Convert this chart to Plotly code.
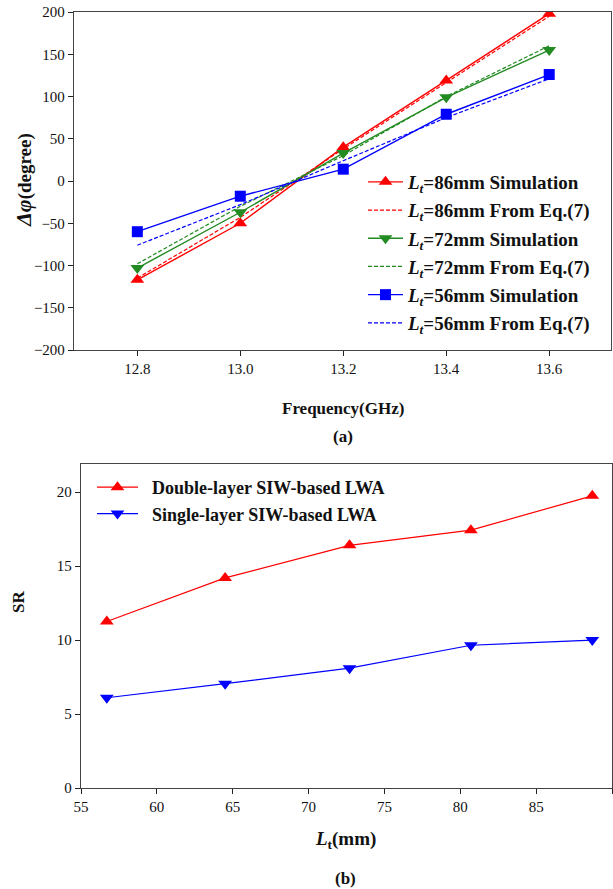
import plotly.graph_objects as go

W, H = 613, 889

# ---- Data (a) ----
freq = [12.8, 13.0, 13.2, 13.4, 13.6]
sim86 = [-117, -50, 40, 119, 198]
eq86 = [-115, -43, 38, 117, 195]
sim72 = [-103, -37, 33, 99, 155]
eq72 = [-98, -30, 30, 100, 160]
sim56 = [-60, -18, 14, 79, 126]
eq56 = [-76, -28, 24, 75, 121]

# ---- Data (b) ----
lt = [56.7, 64.5, 72.7, 80.7, 88.7]
sr_double = [11.25, 14.2, 16.4, 17.43, 19.75]
sr_single = [6.1, 7.05, 8.1, 9.65, 10.0]

RED = "#ff0000"
GREEN = "#228b22"
BLUE = "#0000ff"
FONT = "Times New Roman, Liberation Serif, DejaVu Serif, serif"

def px_x(p):
    return p / W

def px_y(p):
    return 1 - p / H

fig = go.Figure()

lab = "<b><i>L<sub>t</sub></i>=%smm %s</b>"

series_a = [
    (sim86, lab % ("86", "Simulation"), RED, "solid", "triangle-up", True),
    (eq86, lab % ("86", "From Eq.(7)"), RED, "dash", None, False),
    (sim72, lab % ("72", "Simulation"), GREEN, "solid", "triangle-down", True),
    (eq72, lab % ("72", "From Eq.(7)"), GREEN, "dash", None, False),
    (sim56, lab % ("56", "Simulation"), BLUE, "solid", "square", True),
    (eq56, lab % ("56", "From Eq.(7)"), BLUE, "dash", None, False),
]
for i, (ys, name, col, dash, sym, has_m) in enumerate(series_a):
    fig.add_trace(go.Scatter(
        x=freq, y=ys, name=name,
        mode="lines+markers" if has_m else "lines",
        line=dict(color=col, width=1.4 if has_m else 1.2,
                  dash="solid" if dash == "solid" else "4px,2px"),
        marker=dict(symbol=sym or "circle", size=12 if sym != "square" else 11, color=col),
        xaxis="x", yaxis="y", legend="legend", legendgroup="a%d" % i,
    ))

fig.add_trace(go.Scatter(
    x=lt, y=sr_double, name="&nbsp;&nbsp;<b>Double-layer SIW-based LWA</b>",
    mode="lines+markers", line=dict(color=RED, width=1.2),
    marker=dict(symbol="triangle-up", size=12, color=RED),
    xaxis="x2", yaxis="y2", legend="legend2", legendgroup="b0",
))
fig.add_trace(go.Scatter(
    x=lt, y=sr_single, name="&nbsp;&nbsp;<b>Single-layer SIW-based LWA</b>",
    mode="lines+markers", line=dict(color=BLUE, width=1.2),
    marker=dict(symbol="triangle-down", size=12, color=BLUE),
    xaxis="x2", yaxis="y2", legend="legend2", legendgroup="b1",
))

axis_common = dict(
    showline=True, linecolor="#444", linewidth=1.3, mirror=True,
    ticks="outside", ticklen=5, tickwidth=1.2, tickcolor="#222",
    showgrid=False, zeroline=False, automargin=False,
    tickfont=dict(family=FONT, size=15, color="#111"),
)

fig.update_layout(
    width=W, height=H,
    margin=dict(l=0, r=0, t=0, b=0, autoexpand=False),
    paper_bgcolor="white", plot_bgcolor="white",
    font=dict(family=FONT, color="#111"),
    xaxis=dict(domain=[px_x(74), px_x(611)], range=[12.677, 13.72],
               tickvals=[12.8, 13.0, 13.2, 13.4, 13.6],
               ticktext=["12.8", "13.0", "13.2", "13.4", "13.6"],
               anchor="y", **axis_common),
    yaxis=dict(domain=[px_y(350), px_y(12)], range=[-200, 200],
               tickvals=[-200, -150, -100, -50, 0, 50, 100, 150, 200],
               anchor="x", **axis_common),
    xaxis2=dict(domain=[px_x(81), px_x(612)], range=[55, 90],
                tickvals=[55, 60, 65, 70, 75, 80, 85, 90],
                anchor="y2", **axis_common),
    yaxis2=dict(domain=[px_y(788), px_y(464)], range=[0, 21.9],
                tickvals=[0, 5, 10, 15, 20],
                anchor="x2", **axis_common),
    legend=dict(x=px_x(363), y=px_y(163), xanchor="left", yanchor="top",
                bgcolor="rgba(0,0,0,0)", borderwidth=0,
                tracegroupgap=0.5, itemwidth=35,
                font=dict(family=FONT, size=19, color="#111")),
    legend2=dict(x=px_x(92), y=px_y(469), xanchor="left", yanchor="top",
                 bgcolor="rgba(0,0,0,0)", borderwidth=0,
                 tracegroupgap=0, itemwidth=41,
                 font=dict(family=FONT, size=18, color="#111")),
    showlegend=True,
)

ann = [
    dict(x=px_x(343), y=px_y(408), text="<b>Frequency(GHz)</b>", size=17, angle=0),
    dict(x=px_x(343), y=px_y(437), text="<b>(a)</b>", size=17, angle=0),
    dict(x=px_x(23), y=px_y(180),
         text="<b><i><span style='font-size:22px'>Δφ</span></i></b><b>(degree)</b>",
         size=19, angle=-90),
    dict(x=px_x(18), y=px_y(602), text="<b>SR</b>", size=17, angle=-90),
    dict(x=px_x(345), y=px_y(840), text="<b><i>L</i><sub>t</sub>(mm)</b>", size=19, angle=0),
    dict(x=px_x(345), y=px_y(878), text="<b>(b)</b>", size=17, angle=0),
]
for a in ann:
    fig.add_annotation(x=a["x"], y=a["y"], xref="paper", yref="paper",
                       text=a["text"], showarrow=False, textangle=a["angle"],
                       xanchor="center", yanchor="middle",
                       font=dict(family=FONT, size=a["size"], color="#111"))

fig.write_html("out.html")
